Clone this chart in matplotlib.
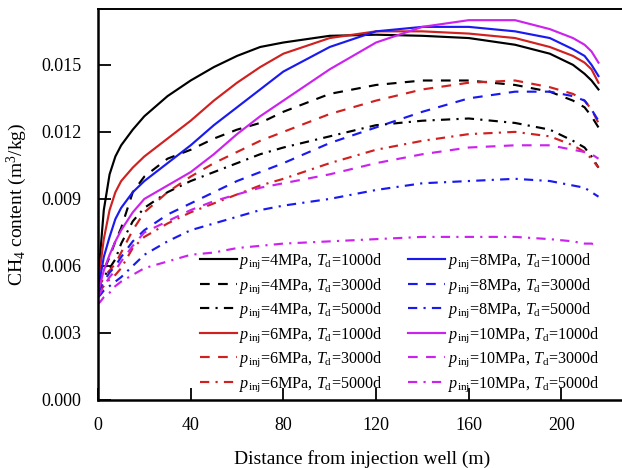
import matplotlib
matplotlib.use("Agg")
import matplotlib.pyplot as plt

plt.rcParams['font.family'] = ['Liberation Serif', 'DejaVu Serif']
plt.rcParams['mathtext.fontset'] = 'custom'
plt.rcParams['mathtext.rm'] = 'Liberation Serif'
plt.rcParams['mathtext.it'] = 'Liberation Serif:italic'

x = [0, 1, 2.5, 5, 7.5, 10, 15, 20, 30, 40, 50, 60, 70, 80, 100, 120, 140, 160, 180, 195, 205, 210, 213, 216]

# 4 MPa
p4_1000 = [0.0055, 0.0066, 0.0085, 0.0101, 0.0109, 0.0114, 0.0121, 0.0127, 0.0136, 0.0143, 0.0149, 0.0154, 0.0158, 0.0160, 0.0163, 0.01635, 0.0163, 0.0162, 0.0159, 0.0155, 0.0150, 0.0146, 0.0143, 0.0139]
p4_3000 = [0.0052, 0.0054, 0.0058, 0.0064, 0.0071, 0.0077, 0.0093, 0.0100, 0.0108, 0.0112, 0.0117, 0.0121, 0.0124, 0.0129, 0.0137, 0.0141, 0.0143, 0.0143, 0.0141, 0.0138, 0.0134, 0.0131, 0.0127, 0.0122]
p4_5000 = [0.0050, 0.0052, 0.0055, 0.0059, 0.0063, 0.0070, 0.0080, 0.0086, 0.0093, 0.0098, 0.0102, 0.0106, 0.0110, 0.0113, 0.0118, 0.0123, 0.0125, 0.0126, 0.0124, 0.0121, 0.0116, 0.0113, 0.0109, 0.0104]
# 6 MPa
p6_1000 = [0.0052, 0.0060, 0.0072, 0.0085, 0.0093, 0.0098, 0.0104, 0.0109, 0.0117, 0.0125, 0.0134, 0.0142, 0.0149, 0.0155, 0.0162, 0.0165, 0.0165, 0.0164, 0.0162, 0.0158, 0.0154, 0.0151, 0.0148, 0.0142]
p6_3000 = [0.0050, 0.0052, 0.0055, 0.0058, 0.0061, 0.0066, 0.0076, 0.0084, 0.0093, 0.0100, 0.0106, 0.0111, 0.0116, 0.0120, 0.0128, 0.0134, 0.0139, 0.0142, 0.0143, 0.0140, 0.0137, 0.0134, 0.0130, 0.0124]
p6_5000 = [0.0048, 0.0049, 0.0051, 0.0054, 0.0056, 0.0059, 0.0068, 0.0073, 0.0079, 0.0084, 0.0088, 0.0092, 0.0096, 0.0099, 0.0106, 0.0112, 0.0116, 0.0119, 0.0120, 0.0118, 0.0114, 0.0111, 0.0108, 0.0104]
# 8 MPa
p8_1000 = [0.0050, 0.0055, 0.0064, 0.0073, 0.0081, 0.0086, 0.0093, 0.0098, 0.0106, 0.0114, 0.0123, 0.0131, 0.0139, 0.0147, 0.0158, 0.0165, 0.0167, 0.0167, 0.0165, 0.0162, 0.0157, 0.0154, 0.0150, 0.0145]
p8_3000 = [0.0048, 0.0050, 0.0053, 0.0057, 0.0060, 0.0064, 0.0071, 0.0076, 0.0083, 0.0088, 0.0093, 0.0098, 0.0102, 0.0106, 0.0115, 0.0122, 0.0129, 0.0135, 0.0138, 0.0138, 0.0136, 0.0134, 0.0130, 0.0125]
p8_5000 = [0.0046, 0.0047, 0.0049, 0.0051, 0.0053, 0.0055, 0.0060, 0.0065, 0.0071, 0.0076, 0.0079, 0.0082, 0.0085, 0.0087, 0.0090, 0.0094, 0.0097, 0.0098, 0.0099, 0.0098, 0.0096, 0.0095, 0.0093, 0.0091]
# 10 MPa
p10_1000 = [0.0048, 0.0052, 0.0058, 0.0065, 0.0071, 0.0076, 0.0084, 0.0090, 0.0096, 0.0102, 0.0110, 0.0119, 0.0127, 0.0134, 0.0148, 0.0160, 0.0167, 0.0170, 0.0170, 0.0166, 0.0162, 0.0159, 0.0156, 0.0151]
p10_3000 = [0.0046, 0.0048, 0.0051, 0.0055, 0.0058, 0.0062, 0.0069, 0.0075, 0.0080, 0.0085, 0.0089, 0.0092, 0.0095, 0.0097, 0.0101, 0.0106, 0.0110, 0.0113, 0.0114, 0.0114, 0.0112, 0.0111, 0.0110, 0.0108]
p10_5000 = [0.0043, 0.0044, 0.0046, 0.0048, 0.0051, 0.0053, 0.0056, 0.0059, 0.0062, 0.0065, 0.0066, 0.0068, 0.0069, 0.0070, 0.0071, 0.0072, 0.0073, 0.0073, 0.0073, 0.0072, 0.0071, 0.0070, 0.0070, 0.0069]

pressures = ['4', '6', '8', '10']
durations = ['1000', '3000', '5000']
series = [p4_1000, p4_3000, p4_5000, p6_1000, p6_3000, p6_5000,
          p8_1000, p8_3000, p8_5000, p10_1000, p10_3000, p10_5000]
colors = {'4': '#000000', '6': '#d02020', '8': '#1a1af0', '10': '#cc22ee'}
styles = {'1000': '-', '3000': (0, (4.5, 3.9)), '5000': (0, (4.3, 2.9, 1.0, 2.9))}

fig = plt.figure(figsize=(6.22, 4.68), dpi=100)
ax = fig.add_axes([98/622, 68/468, 228*2.317/622, 391/468])

i = 0
for p in pressures:
    for d in durations:
        lab = r'$p_{\mathrm{inj}}$=' + p + r'MPa, $T_{\mathrm{d}}$=' + d + 'd'
        ax.plot(x, series[i], color=colors[p], linestyle=styles[d], lw=1.55, label=lab)
        i += 1

ax.set_xlim(0, 228)
ax.set_ylim(0, 0.0175)
ax.set_xticks([0, 40, 80, 120, 160, 200])
ax.set_yticks([0.000, 0.003, 0.006, 0.009, 0.012, 0.015])
ax.set_yticklabels(['0.000', '0.003', '0.006', '0.009', '0.012', '0.015'])
ax.tick_params(direction='in', length=9, width=1.3, labelsize=13, pad=12)
ax.spines['right'].set_visible(False)
for s in ['left', 'bottom']:
    ax.spines[s].set_linewidth(1.8)
ax.spines['top'].set_linewidth(1.4)

ax.set_xlabel('Distance from injection well (m)', fontsize=14, labelpad=12)
ax.set_ylabel(r'CH$_4$ content (m$^3$/kg)', fontsize=14, labelpad=9)

leg = ax.legend(ncol=2, frameon=False, fontsize=11.6, loc='lower left',
                bbox_to_anchor=(0.18, 0.0), handlelength=2.3, handletextpad=0.15,
                columnspacing=1.6, labelspacing=0.3, borderaxespad=0)

fig.savefig('out.png', dpi=100)
